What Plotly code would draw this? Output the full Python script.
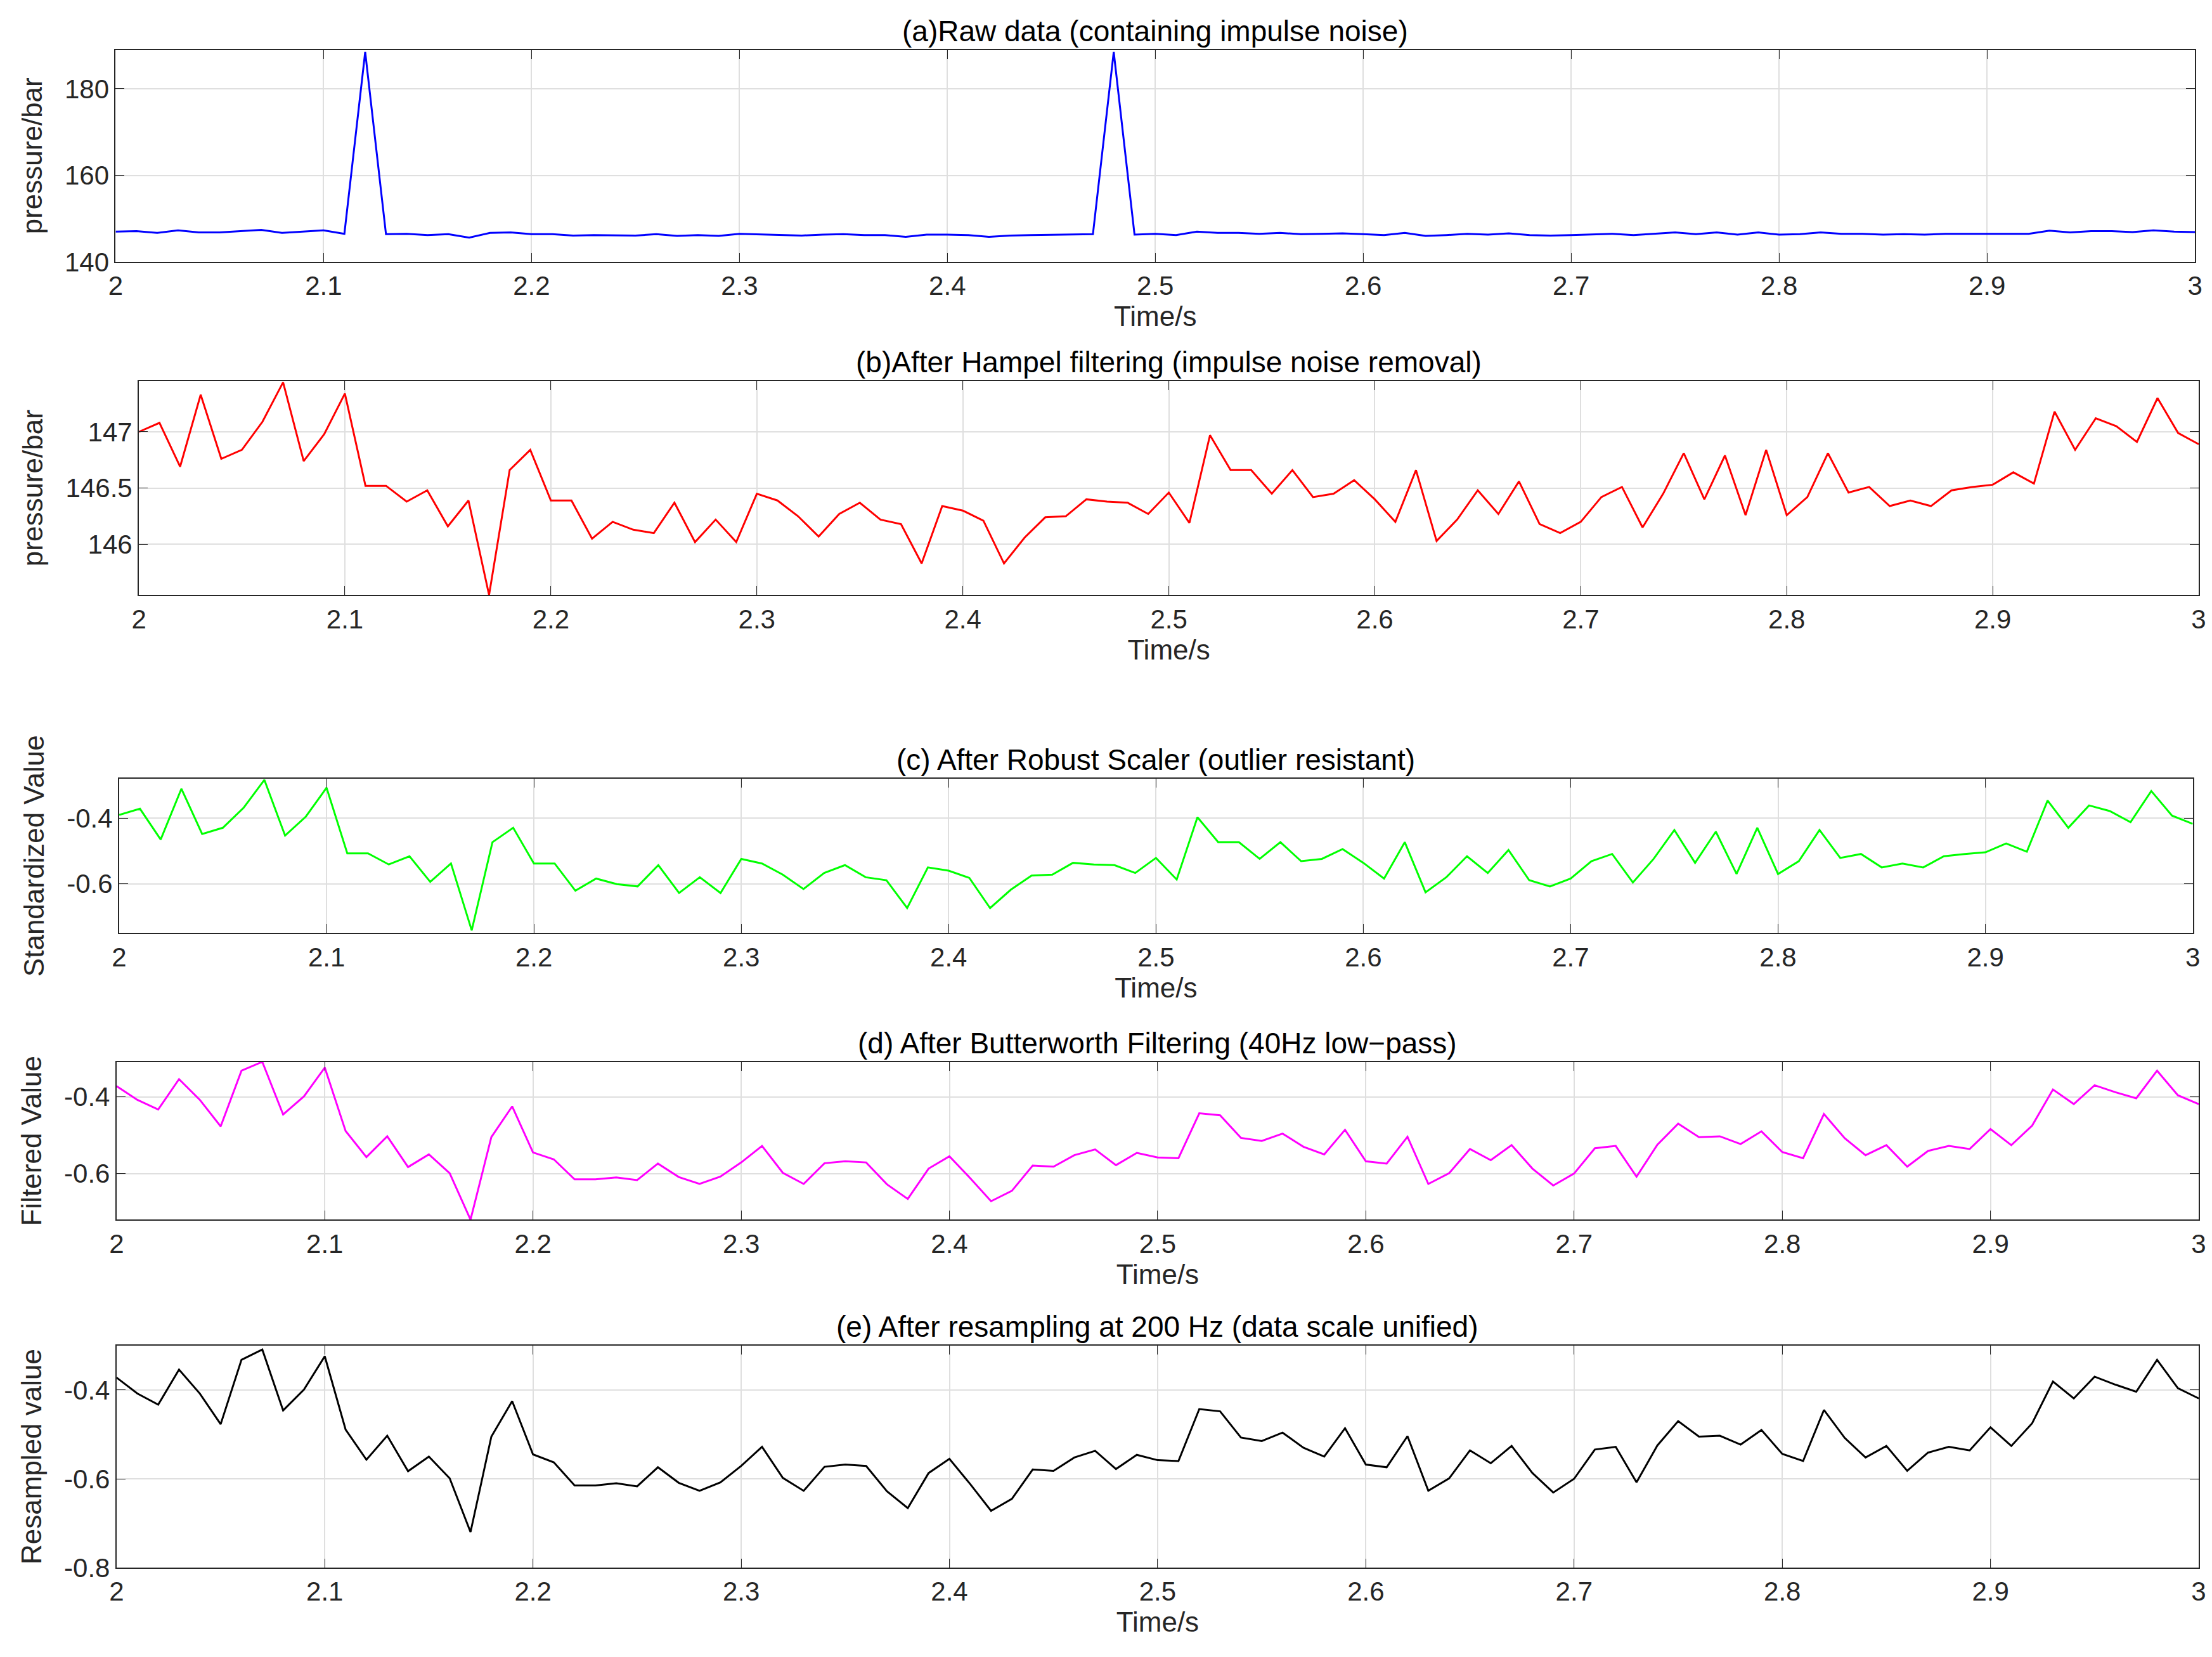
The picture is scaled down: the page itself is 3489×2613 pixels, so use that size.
import plotly.graph_objects as go

time_s = [round(2 + i * 0.01, 2) for i in range(101)]

raw_pressure = [147.0,147.1,146.7,147.3,146.8,146.8,147.1,147.4,146.7,147.0,
147.3,146.5,188.5,146.4,146.5,146.2,146.4,145.6,146.7,146.8,
146.4,146.4,146.1,146.2,146.1,146.1,146.4,146.0,146.2,146.0,
146.5,146.4,146.3,146.1,146.3,146.4,146.2,146.2,145.8,146.3,
146.3,146.2,145.8,146.1,146.2,146.3,146.4,146.4,188.5,146.3,
146.5,146.2,147.0,146.7,146.7,146.5,146.7,146.4,146.5,146.6,
146.4,146.2,146.7,146.0,146.2,146.5,146.3,146.6,146.2,146.1,
146.2,146.4,146.5,146.2,146.5,146.8,146.4,146.8,146.3,146.8,
146.3,146.4,146.8,146.5,146.5,146.3,146.4,146.3,146.5,146.5,
146.5,146.6,146.5,147.2,146.8,147.1,147.1,146.9,147.3,147.0,146.9]

hampel_pressure = [147.0,147.08,146.69,147.33,146.76,146.84,147.09,147.44,146.74,146.98,
147.34,146.52,146.52,146.38,146.48,146.16,146.39,145.55,146.66,146.84,
146.39,146.39,146.05,146.20,146.13,146.10,146.37,146.02,146.22,146.02,
146.45,146.39,146.25,146.07,146.27,146.37,146.22,146.18,145.83,146.34,
146.30,146.21,145.83,146.06,146.24,146.25,146.40,146.38,146.37,146.27,
146.46,146.19,146.97,146.66,146.66,146.45,146.66,146.42,146.45,146.57,
146.40,146.20,146.66,146.03,146.22,146.48,146.27,146.56,146.18,146.10,
146.20,146.42,146.51,146.15,146.45,146.81,146.40,146.79,146.26,146.84,
146.26,146.42,146.81,146.46,146.51,146.34,146.39,146.34,146.48,146.51,
146.53,146.64,146.54,147.18,146.84,147.12,147.05,146.91,147.30,146.99,146.89]

standardized_value = [-0.390,-0.371,-0.465,-0.310,-0.448,-0.429,-0.368,-0.283,-0.453,-0.395,
-0.307,-0.507,-0.507,-0.541,-0.516,-0.594,-0.538,-0.742,-0.473,-0.429,
-0.538,-0.538,-0.621,-0.584,-0.601,-0.608,-0.543,-0.628,-0.580,-0.628,
-0.524,-0.538,-0.572,-0.616,-0.567,-0.543,-0.580,-0.589,-0.674,-0.550,
-0.560,-0.582,-0.674,-0.618,-0.575,-0.572,-0.536,-0.541,-0.543,-0.567,
-0.521,-0.587,-0.397,-0.473,-0.473,-0.524,-0.473,-0.531,-0.524,-0.494,
-0.536,-0.584,-0.473,-0.626,-0.580,-0.516,-0.567,-0.497,-0.589,-0.608,
-0.584,-0.531,-0.509,-0.596,-0.524,-0.436,-0.536,-0.441,-0.570,-0.429,
-0.570,-0.531,-0.436,-0.521,-0.509,-0.550,-0.538,-0.550,-0.516,-0.509,
-0.504,-0.477,-0.502,-0.346,-0.429,-0.361,-0.378,-0.412,-0.317,-0.392,-0.417]

filtered_value = [-0.372,-0.408,-0.433,-0.354,-0.408,-0.477,-0.332,-0.309,-0.446,-0.399,
-0.324,-0.489,-0.557,-0.503,-0.583,-0.550,-0.599,-0.720,-0.505,-0.425,
-0.545,-0.563,-0.615,-0.615,-0.610,-0.617,-0.574,-0.609,-0.627,-0.608,
-0.571,-0.528,-0.598,-0.627,-0.573,-0.568,-0.571,-0.628,-0.666,-0.587,
-0.555,-0.612,-0.672,-0.645,-0.579,-0.582,-0.552,-0.537,-0.578,-0.546,
-0.558,-0.560,-0.443,-0.448,-0.507,-0.515,-0.496,-0.530,-0.550,-0.486,
-0.568,-0.574,-0.504,-0.627,-0.599,-0.536,-0.565,-0.526,-0.587,-0.631,
-0.600,-0.534,-0.528,-0.608,-0.525,-0.470,-0.505,-0.503,-0.523,-0.490,
-0.544,-0.560,-0.445,-0.508,-0.552,-0.526,-0.582,-0.541,-0.528,-0.536,
-0.484,-0.526,-0.475,-0.381,-0.419,-0.370,-0.388,-0.404,-0.332,-0.396,-0.419]

resampled_value = [-0.372,-0.408,-0.433,-0.354,-0.408,-0.477,-0.332,-0.309,-0.446,-0.399,
-0.324,-0.489,-0.557,-0.503,-0.583,-0.550,-0.599,-0.720,-0.505,-0.425,
-0.545,-0.563,-0.615,-0.615,-0.610,-0.617,-0.574,-0.609,-0.627,-0.608,
-0.571,-0.528,-0.598,-0.627,-0.573,-0.568,-0.571,-0.628,-0.666,-0.587,
-0.555,-0.612,-0.672,-0.645,-0.579,-0.582,-0.552,-0.537,-0.578,-0.546,
-0.558,-0.560,-0.443,-0.448,-0.507,-0.515,-0.496,-0.530,-0.550,-0.486,
-0.568,-0.574,-0.504,-0.627,-0.599,-0.536,-0.565,-0.526,-0.587,-0.631,
-0.600,-0.534,-0.528,-0.608,-0.525,-0.470,-0.505,-0.503,-0.523,-0.490,
-0.544,-0.560,-0.445,-0.508,-0.552,-0.526,-0.582,-0.541,-0.528,-0.536,
-0.484,-0.526,-0.475,-0.381,-0.419,-0.370,-0.388,-0.404,-0.332,-0.396,-0.419]

panel_titles = ["(a)Raw data (containing impulse noise)",
                "(b)After Hampel filtering (impulse noise removal)",
                "(c) After Robust Scaler (outlier resistant)",
                "(d) After Butterworth Filtering (40Hz low\u2212pass)",
                "(e) After resampling at 200 Hz (data scale unified)"]
y_titles = ["pressure/bar", "pressure/bar", "Standardized Value", "Filtered Value", "Resampled value"]
series = [raw_pressure, hampel_pressure, standardized_value, filtered_value, resampled_value]
colors = ["#0000FF", "#FF0000", "#00FF00", "#FF00FF", "#000000"]
x_domains = [[0.050, 0.990], [0.0605, 0.9917], [0.0516, 0.989], [0.0504, 0.9917], [0.0504, 0.9917]]
y_domains = [[0.845, 0.973], [0.644, 0.773], [0.440, 0.533], [0.267, 0.362], [0.057, 0.191]]
y_ranges = [[140, 189], [145.55, 147.45], [-0.75, -0.28], [-0.72, -0.31], [-0.8, -0.3]]
y_ticks = [[140, 160, 180], [146, 146.5, 147], [-0.4, -0.6], [-0.4, -0.6], [-0.4, -0.6, -0.8]]
y_ticktext = [["140", "160", "180"], ["146", "146.5", "147"], ["-0.4", "-0.6"], ["-0.4", "-0.6"], ["-0.4", "-0.6", "-0.8"]]
x_ticks = [2, 2.1, 2.2, 2.3, 2.4, 2.5, 2.6, 2.7, 2.8, 2.9, 3]
x_ticktext = ["2", "2.1", "2.2", "2.3", "2.4", "2.5", "2.6", "2.7", "2.8", "2.9", "3"]

FONT = "Liberation Sans, Arial, sans-serif"
fig = go.Figure()
layout = dict(width=3489, height=2613, margin=dict(l=0, r=0, t=0, b=0),
              plot_bgcolor="white", paper_bgcolor="white", showlegend=False,
              font=dict(family=FONT, size=42, color="#262626"), annotations=[])
for k in range(5):
    n = "" if k == 0 else str(k + 1)
    fig.add_trace(go.Scatter(x=time_s, y=series[k], mode="lines",
                             line=dict(color=colors[k], width=3),
                             xaxis="x" + n, yaxis="y" + n))
    common = dict(showline=True, linecolor="#262626", linewidth=2, mirror="ticks",
                  ticks="inside", ticklen=14, tickcolor="#262626", automargin=False,
                  showgrid=True, gridcolor="#DFDFDF", gridwidth=2, zeroline=False,
                  tickfont=dict(size=42, family=FONT, color="#262626"))
    layout["xaxis" + n] = dict(common, domain=x_domains[k], range=[2, 3],
                               anchor="y" + n, tickvals=x_ticks, ticktext=x_ticktext,
                               title=dict(text="Time/s", font=dict(size=44, family=FONT), standoff=8))
    layout["yaxis" + n] = dict(common, domain=y_domains[k], range=y_ranges[k],
                               anchor="x" + n, tickvals=y_ticks[k], ticktext=y_ticktext[k],
                               title=dict(text=y_titles[k], font=dict(size=44, family=FONT), standoff=22))
    xc = (x_domains[k][0] + x_domains[k][1]) / 2
    layout["annotations"].append(dict(text=panel_titles[k], x=xc, y=y_domains[k][1],
                                      xref="paper", yref="paper", xanchor="center", yanchor="bottom",
                                      yshift=2, showarrow=False,
                                      font=dict(size=46, family=FONT, color="#000000")))
fig.update_layout(**layout)
fig.write_html("out.html")
